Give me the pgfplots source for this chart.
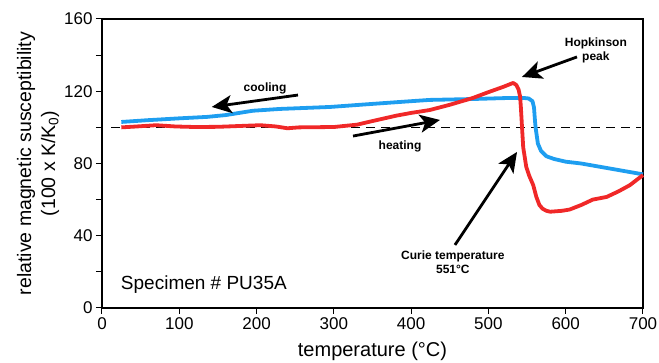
\documentclass[border=0pt]{standalone}
\usepackage{pgfplots}
\pgfplotsset{compat=1.18}
\usepackage{fontspec}
\setmainfont{Liberation Sans}
\usetikzlibrary{arrows.meta}
\definecolor{cblue}{RGB}{30,158,240}
\definecolor{cred}{RGB}{240,40,40}
\begin{document}
\begin{tikzpicture}
\path[use as bounding box] (-102pt,-55pt) rectangle (557pt,308pt);
\begin{axis}[
  name=ax,
  at={(0,0)}, anchor=south west,
  scale only axis, width=541pt, height=289pt,
  xmin=0, xmax=700, ymin=0, ymax=160,
  xtick={0,100,...,700}, ytick={0,40,...,160},
  minor ytick={20,60,100,140},
  tick pos=left, tick align=outside,
  major tick length=6pt, minor tick length=6pt,
  axis line style={black, line width=1.4pt},
  every tick/.style={black, line width=1pt},
  tick label style={font=\fontsize{17}{17}\selectfont},
  /pgf/number format/assume math mode=true,
  xlabel={temperature (°C)},
  ylabel={relative magnetic susceptibility\\(100 x K/K\textsubscript{0})},
  xlabel style={font=\fontsize{20}{24}\selectfont, yshift=-6pt},
  ylabel style={font=\fontsize{19.5}{24}\selectfont, align=center, yshift=-2pt},
  clip=false,
]
\addplot[black, line width=1.4pt] coordinates {(0,160) (700,160) (700,0)};
\addplot[black, dashed, line width=1.1pt, dash pattern=on 9pt off 6pt] coordinates {(12,100) (698,100)};
\addplot[cblue, line width=3.8pt, line join=round] coordinates {
(25,103) (60,104) (100,105) (136,105.8) (160,106.8) (195,109.2) (230,110.2)
(295,111.3) (350,113) (400,114.5) (424,115.2) (480,115.7) (520,116.2)
(545,116.3) (552,116) (557,114.5) (559,111) (560,105) (561,100) (564,91)
(568,87) (575,84) (585,82.5) (600,81) (620,80) (640,78.5) (660,77)
(680,75.5) (700,74)};
\addplot[cred, line width=3.8pt, line join=round] coordinates {
(25,100) (45,100.5) (70,101.2) (95,100.5) (120,100.2) (150,100.3) (180,100.8)
(205,101.2) (225,100.5) (240,99.5) (255,100) (300,100.2) (330,101.5)
(350,103.5) (381,106.5) (400,108) (424,109.6) (450,112.5) (480,116.3)
(500,119.5) (519,122.4) (532,124.6) (536,123.5) (539,121) (541,117)
(542,111) (543.5,100) (545,89) (549,78) (553,73) (558,68) (562,61.5)
(566,57) (570,55) (575,53.8) (580,53.3) (595,53.8) (605,54.5) (620,57)
(635,60) (653,61.5) (668,64.5) (683,68) (700,73.6)};
\node[anchor=west, font=\fontsize{19}{19}\selectfont] at (axis cs:20,13) {Specimen \# PU35A};
\node[font=\fontsize{12}{12}\selectfont\bfseries] at (axis cs:211,121.8) {cooling};
\node[font=\fontsize{12}{12}\selectfont\bfseries] at (axis cs:385.6,89.7) {heating};
\node[font=\fontsize{12}{14}\selectfont\bfseries, align=center] at (axis cs:639,142.5) {Hopkinson\\peak};
\node[font=\fontsize{12}{14}\selectfont\bfseries, align=center] at (axis cs:454,25.2) {Curie temperature\\551°C};
\draw[line width=2.8pt, -{Stealth[length=20pt,width=18pt,inset=5pt]}] (axis cs:253.6,117.9) -- (axis cs:142,111.3);
\draw[line width=2.8pt, -{Stealth[length=20pt,width=18pt,inset=5pt]}] (axis cs:324.8,95.2) -- (axis cs:437.3,104.1);
\draw[line width=2.8pt, -{Stealth[length=20pt,width=18pt,inset=5pt]}] (axis cs:614.6,139) -- (axis cs:543.4,127.9);
\draw[line width=2.8pt, -{Stealth[length=20pt,width=18pt,inset=5pt]}] (axis cs:456.7,34.9) -- (axis cs:537,86.4);
\end{axis}
\end{tikzpicture}
\end{document}
